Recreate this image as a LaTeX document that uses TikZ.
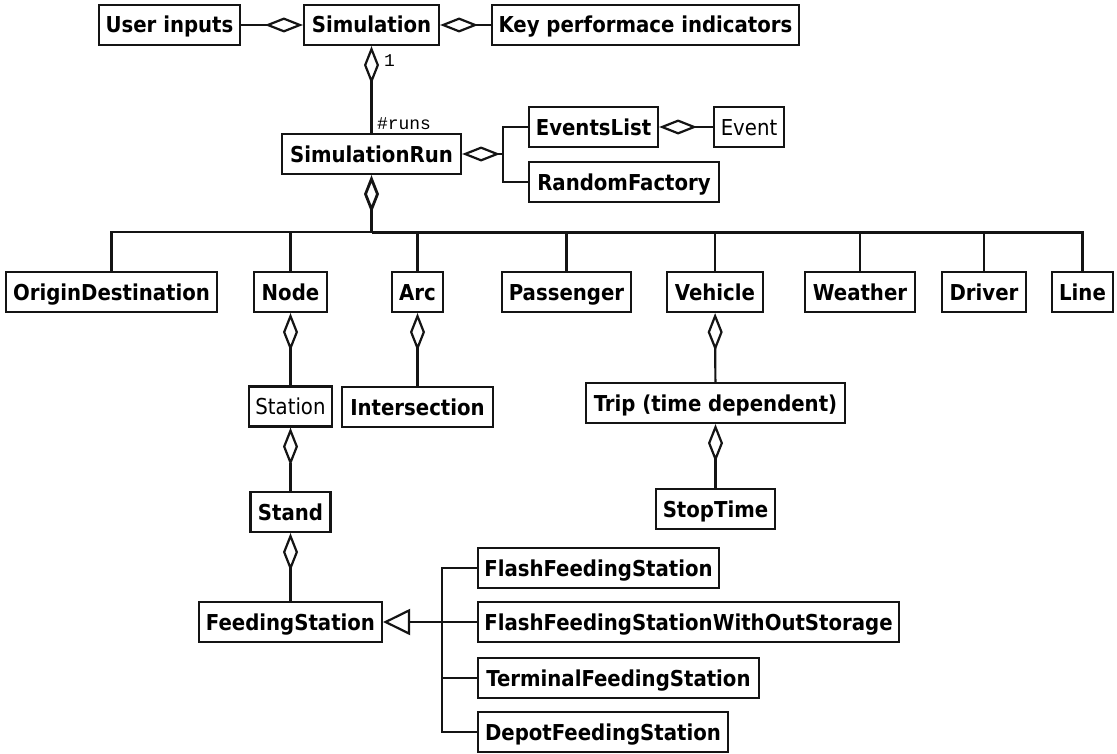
\documentclass[tikz,border=0pt]{standalone}
\usepackage{fontspec}
\setmainfont{DejaVu Sans Condensed}
\newfontfamily\multfont{Liberation Mono}
\usepackage{tikz}
\usetikzlibrary{arrows.meta,positioning}
\definecolor{ink}{RGB}{20,20,20}
\tikzset{
  cls/.style={draw=ink,line width=2.2bp,fill=white,minimum height=40bp,inner sep=0pt,
    text height=16bp,text depth=0pt,font=\fontsize{22}{26}\selectfont\bfseries},
  plaincls/.style={cls,font=\fontsize{22}{26}\selectfont},
  link/.style={draw=ink,line width=2.2bp},
  agg/.style={link,-{Diamond[open,length=38bp,width=15bp]}},
  gen/.style={link,-{Triangle[open,length=27bp,width=26bp]}},
  mult/.style={font=\multfont\fontsize{18}{20}\selectfont,inner sep=0pt},
}

\begin{document}
\begin{tikzpicture}[x=1bp,y=-1bp]
\useasboundingbox[fill=white] (0,0) rectangle (1117,754);
% top row
\node[cls,minimum width=141bp] (ui)  at (169.5,25) {User inputs};
\node[cls,minimum width=135bp] (sim) at (371.5,25) {Simulation};
\node[cls,minimum width=307bp] (kpi) at (645.5,25) {Key performace indicators};

% simulation run and its helpers
\node[cls,minimum width=179bp] (run) at (371.5,154) {SimulationRun};
\node[cls,minimum width=129bp] (evl) at (593.5,127) {EventsList};
\node[plaincls,minimum width=70bp] (ev) at (749,127) {Event};
\node[cls,minimum width=190bp] (rnd) at (624,182) {RandomFactory};

% parts of a run
\node[cls,minimum width=211bp] (od)  at (111.5,292) {OriginDestination};
\node[cls,minimum width=73bp]  (nd)  at (290.5,292) {Node};
\node[cls,minimum width=51bp]  (arc) at (417.5,292) {Arc};
\node[cls,minimum width=129bp] (pax) at (566.5,292) {Passenger};
\node[cls,minimum width=96bp]  (veh) at (715,292) {Vehicle};
\node[cls,minimum width=110bp] (wth) at (860,292) {Weather};
\node[cls,minimum width=84bp]  (drv) at (984,292) {Driver};
\node[cls,minimum width=61bp]  (ln)  at (1082.5,292) {Line};

% lower levels
\node[plaincls,minimum width=83bp] (sta) at (290.5,406.5) {Station};
\node[cls,minimum width=151bp] (isc) at (417.5,407) {Intersection};
\node[cls,minimum width=259bp] (trip) at (715.5,403) {Trip (time dependent)};
\node[cls,minimum width=80bp]  (std) at (290.5,512) {Stand};
\node[cls,minimum width=119bp] (stop) at (715.5,509) {StopTime};
\node[cls,minimum width=183bp] (fs)  at (290.5,622) {FeedingStation};

% feeding station kinds
\node[cls,minimum width=241bp] (ffs)  at (598.5,568) {FlashFeedingStation};
\node[cls,minimum width=421bp] (ffsw) at (688.5,622) {FlashFeedingStationWithOutStorage};
\node[cls,minimum width=281bp] (tfs)  at (618.5,678) {TerminalFeedingStation};
\node[cls,minimum width=250bp] (dfs)  at (603,732) {DepotFeedingStation};

% junctions
\coordinate (jr)  at (503,154);
\coordinate (bus) at (371.5,232);
\coordinate (jf)  at (442,622);

% aggregations
\draw[agg] (ui) -- (sim);
\draw[agg] (kpi) -- (sim);
\draw[agg] (run) -- (sim);
\node[mult,anchor=west] (one) at (384,61) {1};
\node[mult,anchor=south west] (runs) at (377,130) {\#runs};
\draw[agg] (jr) -- (run);
\draw[link] (jr) |- (evl);
\draw[link] (jr) |- (rnd);
\draw[agg] (ev) -- (evl);
\draw[agg,line width=2.8bp] (bus) -- (run);
\foreach \c in {od,nd,arc,pax,veh,wth,drv,ln}
  \draw[link] (bus) -| (\c.north);
\draw[link,line width=3bp] (bus) -- (bus -| ln.north);
\draw[agg] (sta) -- (nd);
\draw[agg] (isc) -- (arc);
\draw[agg] (std) -- (sta);
\draw[agg] (fs) -- (std);
\draw[agg] (trip) -- (veh);
\draw[agg] (stop) -- (trip);

% generalisation
\draw[gen] (jf) -- (fs);
\foreach \c in {ffs,ffsw,tfs,dfs}
  \draw[link] (jf) |- (\c.west);
\end{tikzpicture}
\end{document}
